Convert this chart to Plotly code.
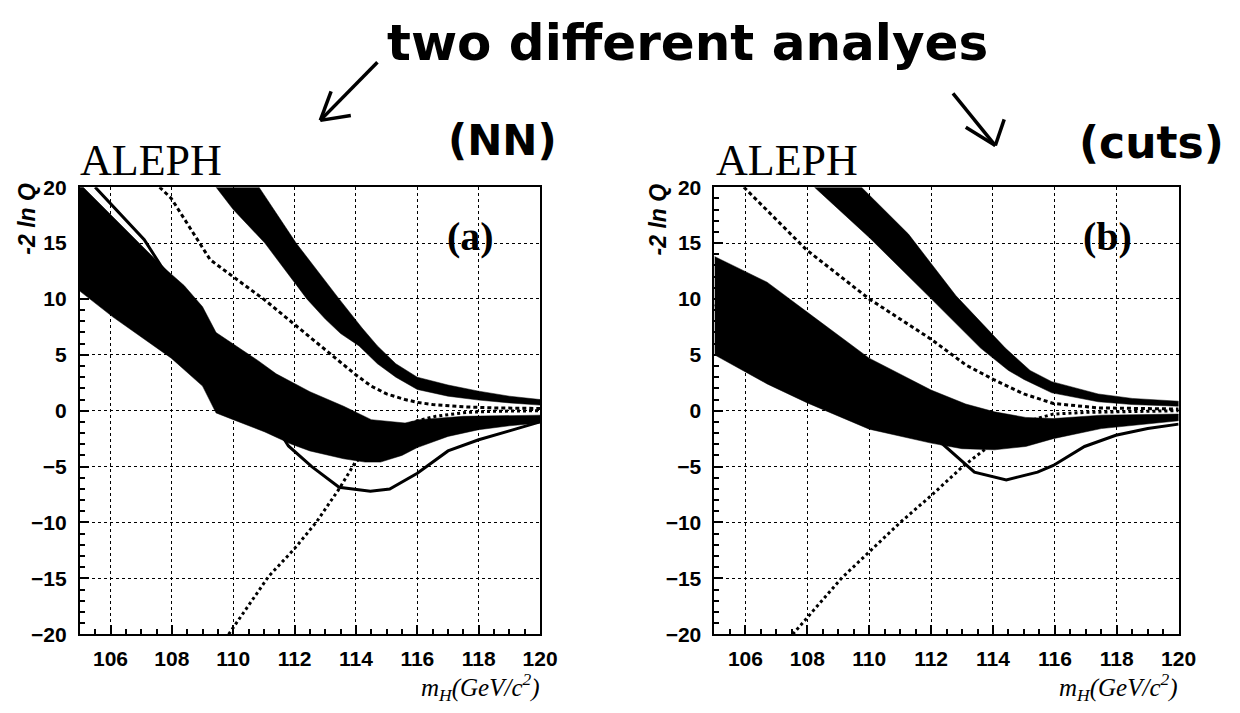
import plotly.graph_objects as go

W, H = 1240, 713

# ---------------- Panel (a) : NN analysis ----------------
a_sb_up_x = [105.0, 106.4, 107.66, 108.4, 109.0, 109.44, 110.0, 110.8, 111.4, 112.5, 113.6, 114.5, 115.6, 116.06, 117.5, 120.0]
a_sb_up_y = [20.3, 16.5, 13.0, 11.2, 9.3, 7.0, 6.0, 4.5, 3.3, 1.7, 0.4, -0.8, -1.1, -0.8, -0.5, -0.4]
a_sb_lo_x = [105.0, 106.07, 107.98, 109.0, 109.44, 110.0, 111.03, 111.9, 112.5, 113.6, 114.3, 114.8, 115.5, 116.0, 117.0, 118.0, 119.0, 120.0]
a_sb_lo_y = [10.7, 8.4, 4.7, 2.2, -0.2, -0.8, -1.9, -3.0, -3.6, -4.3, -4.6, -4.6, -4.0, -3.3, -2.3, -1.7, -1.35, -1.1]

a_b_up_x = [110.84, 112.05, 113.45, 114.2, 114.7, 115.3, 116.0, 117.0, 118.0, 119.0, 120.0]
a_b_up_y = [20.0, 15.0, 10.0, 7.4, 5.8, 4.2, 3.0, 2.3, 1.75, 1.3, 1.0]
a_b_lo_x = [109.44, 110.0, 111.03, 112.4, 113.0, 113.5, 114.1, 114.7, 115.3, 116.0, 117.0, 118.0, 119.0, 120.0]
a_b_lo_y = [20.0, 18.0, 15.0, 10.0, 8.2, 6.9, 5.8, 4.2, 3.0, 1.9, 1.3, 0.95, 0.7, 0.5]

a_exp_b_x = [107.6, 107.98, 109.25, 110.0, 111.03, 112.05, 113.2, 114.0, 114.5, 115.0, 115.6, 116.0, 116.5, 117.5, 118.5, 120.0]
a_exp_b_y = [20.0, 19.0, 13.5, 12.0, 9.9, 7.6, 5.0, 3.2, 2.2, 1.5, 1.0, 0.75, 0.55, 0.35, 0.25, 0.2]

a_exp_sb_x = [109.85, 111.16, 111.98, 112.7, 113.45, 113.96, 114.6, 115.3, 116.0, 116.6, 117.6, 118.5, 120.0]
a_exp_sb_y = [-20.0, -14.8, -12.4, -10.0, -7.0, -4.7, -3.0, -1.7, -0.9, -0.5, -0.15, -0.05, 0.0]

a_obs_x = [105.5, 106.8, 107.1, 107.66, 108.6, 109.8, 110.9, 111.8, 112.56, 113.45, 114.47, 115.1, 116.0, 117.0, 118.0, 119.0, 120.0]
a_obs_y = [20.0, 16.2, 15.3, 12.9, 9.8, 5.0, 0.8, -3.15, -5.0, -6.85, -7.2, -7.0, -5.6, -3.6, -2.6, -1.8, -1.0]

# ---------------- Panel (b) : cut-based analysis ----------------
b_sb_up_x = [105.0, 106.7, 108.2, 110.0, 112.0, 113.12, 114.05, 115.06, 115.95, 117.5, 120.0]
b_sb_up_y = [13.8, 11.5, 8.4, 4.7, 1.85, 0.6, -0.1, -0.6, -0.7, -0.4, -0.3]
b_sb_lo_x = [105.0, 106.7, 108.0, 110.0, 112.0, 113.0, 114.05, 115.06, 115.95, 117.5, 120.0]
b_sb_lo_y = [5.0, 2.4, 0.7, -1.65, -2.9, -3.4, -3.5, -3.2, -2.5, -1.6, -0.9]

b_b_up_x = [109.75, 111.27, 112.8, 114.4, 115.2, 115.9, 117.4, 118.5, 120.0]
b_b_up_y = [20.0, 15.8, 10.3, 5.6, 3.6, 2.6, 1.5, 1.1, 0.85]
b_b_lo_x = [108.23, 110.0, 111.9, 113.6, 114.5, 115.0, 115.9, 117.4, 118.5, 120.0]
b_b_lo_y = [20.0, 15.5, 10.3, 5.6, 3.6, 2.8, 1.6, 0.8, 0.55, 0.4]

b_exp_b_x = [105.95, 107.97, 110.0, 112.0, 113.12, 114.05, 115.0, 115.95, 117.4, 120.0]
b_exp_b_y = [20.0, 14.4, 10.0, 6.4, 4.1, 2.75, 1.5, 0.65, 0.25, 0.15]

b_exp_sb_x = [107.53, 109.1, 111.0, 112.0, 113.0, 113.67, 114.5, 115.3, 115.95, 117.0, 120.0]
b_exp_sb_y = [-20.0, -15.0, -10.0, -7.6, -5.05, -3.6, -2.0, -0.8, -0.3, -0.15, 0.0]

b_obs_x = [105.0, 108.0, 110.0, 111.5, 112.4, 113.4, 114.43, 115.44, 115.95, 116.96, 117.97, 119.0, 120.0]
b_obs_y = [9.5, 4.5, 1.0, -1.5, -3.05, -5.5, -6.2, -5.5, -4.9, -3.2, -2.2, -1.6, -1.2]

x_range = [105, 120]
y_range = [-20, 20]
x_ticks = [106, 108, 110, 112, 114, 116, 118, 120]
y_ticks = [-20, -15, -10, -5, 0, 5, 10, 15, 20]

fig = go.Figure()


def band(xu, yu, xl, yl, xa, ya):
    fig.add_trace(go.Scatter(
        x=list(xu) + list(xl)[::-1], y=list(yu) + list(yl)[::-1],
        mode="lines", fill="toself", fillcolor="black",
        line=dict(color="black", width=0.5), xaxis=xa, yaxis=ya,
        showlegend=False, hoverinfo="skip"))


def curve(x, y, dash, width, xa, ya):
    fig.add_trace(go.Scatter(
        x=x, y=y, mode="lines", line=dict(color="black", width=width, dash=dash),
        xaxis=xa, yaxis=ya, showlegend=False))


for xa, ya, sbu, sbl, bu, bl, eb, esb, obs in [
    ("x", "y", (a_sb_up_x, a_sb_up_y), (a_sb_lo_x, a_sb_lo_y), (a_b_up_x, a_b_up_y),
     (a_b_lo_x, a_b_lo_y), (a_exp_b_x, a_exp_b_y), (a_exp_sb_x, a_exp_sb_y), (a_obs_x, a_obs_y)),
    ("x2", "y2", (b_sb_up_x, b_sb_up_y), (b_sb_lo_x, b_sb_lo_y), (b_b_up_x, b_b_up_y),
     (b_b_lo_x, b_b_lo_y), (b_exp_b_x, b_exp_b_y), (b_exp_sb_x, b_exp_sb_y), (b_obs_x, b_obs_y)),
]:
    band(sbu[0], sbu[1], sbl[0], sbl[1], xa, ya)
    band(bu[0], bu[1], bl[0], bl[1], xa, ya)
    curve(eb[0], eb[1], "4px,3px", 3, xa, ya)
    curve(esb[0], esb[1], "3px,3px", 3, xa, ya)
    curve(obs[0], obs[1], "solid", 3, xa, ya)


def px(x):
    return x / W


def py(y):
    return 1 - y / H


tickfont = dict(family="Liberation Sans, Arial, sans-serif", size=21, color="black", weight="bold")

xax = dict(range=x_range, tickvals=x_ticks, ticks="inside", ticklen=9, tickwidth=1.5,
           tickcolor="black", showline=True, linecolor="black", linewidth=2, mirror=True,
           showgrid=True, gridcolor="black", gridwidth=1, griddash="dot", zeroline=False,
           tickfont=tickfont, ticklabelstandoff=5,
           minor=dict(dtick=0.5, ticks="inside", ticklen=5, tickcolor="black", showgrid=False))
yax = dict(range=y_range, tickvals=y_ticks, ticks="inside", ticklen=9, tickwidth=1.5,
           tickcolor="black", showline=True, linecolor="black", linewidth=2, mirror=True,
           showgrid=True, gridcolor="black", gridwidth=1, griddash="dot", zeroline=False,
           tickfont=tickfont, ticklabelstandoff=7,
           minor=dict(dtick=1, ticks="inside", ticklen=5, tickcolor="black", showgrid=False))

y_dom = [py(643), py(181)]
fig.update_layout(
    width=W, height=H, margin=dict(l=0, r=0, t=0, b=0),
    paper_bgcolor="white", plot_bgcolor="white", showlegend=False,
    xaxis=dict(xax, domain=[px(81), px(548)], anchor="y"),
    yaxis=dict(yax, domain=y_dom, anchor="x"),
    xaxis2=dict(xax, domain=[px(725), px(1196)], anchor="y2"),
    yaxis2=dict(yax, domain=y_dom, anchor="x2"),
)

ann = []
serif = "Liberation Serif, Times New Roman, serif"
sans = "Liberation Sans, Arial, sans-serif"
hand = "DejaVu Sans, sans-serif"


def text(t, x, y, size, family, xanchor="center", yanchor="middle", angle=0, weight="normal"):
    ann.append(dict(text=t, x=px(x), y=py(y), xref="paper", yref="paper", showarrow=False,
                    xanchor=xanchor, yanchor=yanchor, textangle=angle,
                    font=dict(size=size, family=family, color="black", weight=weight)))


for left, ylab_x, xt_right, tag, tag_x in [(79, 27, 550, "(a)", 477), (725, 668, 1197, "(b)", 1124)]:
    text("ALEPH", left, 153, 44, serif, xanchor="left")
    text("<i>-2 ln Q</i>", ylab_x, 214, 23, sans, angle=-90, weight="bold")
    text("<i>m<sub>H</sub>(GeV/c<sup>2</sup>)</i>", xt_right, 698, 25, serif, xanchor="right")
    text(tag, tag_x, 232, 40, serif, weight="bold")

text("two different analyes", 698, 32, 50, hand, weight="bold")
text("(NN)", 510, 133, 42, hand, weight="bold")
text("(cuts)", 1168, 135, 44, hand, weight="bold")
fig.update_layout(annotations=ann)

shapes = []
for (x0, y0, x1, y1) in [(383, 52, 325, 112), (325, 112, 336, 82), (325, 112, 356, 107),
                         (967, 84, 1010, 138), (1010, 138, 980, 119), (1010, 138, 1019, 111)]:
    shapes.append(dict(type="line", xref="paper", yref="paper", x0=px(x0), y0=py(y0),
                       x1=px(x1), y1=py(y1), line=dict(color="black", width=3.5)))
fig.update_layout(shapes=shapes)

fig.write_html("out.html")
